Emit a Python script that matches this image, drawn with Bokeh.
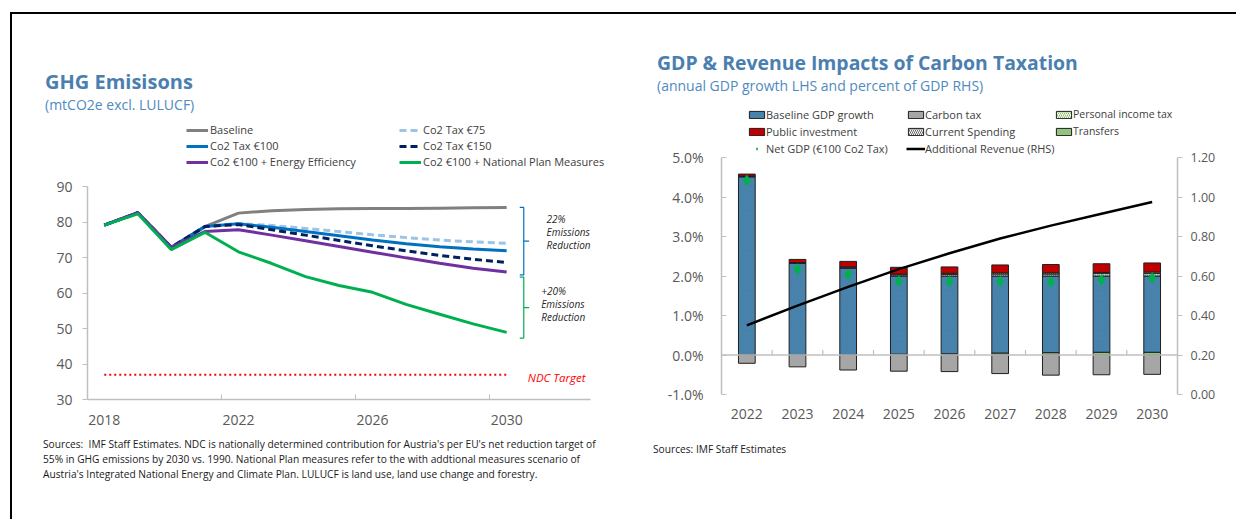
import numpy as np
from bokeh.plotting import figure
from bokeh.layouts import row, column
from bokeh.models import (Range1d, FactorRange, LinearAxis, FixedTicker, PrintfTickFormatter,
                          Label, Legend, LegendItem, Span, Div)
from bokeh.embed import file_html
from bokeh.resources import INLINE

FONT = "Open Sans"
TITLE_C = "#4a7fb0"
SUB_C = "#4f8ac0"
TICK_C = "#595959"
AXIS_C = "#bfbfbf"

# ---------------- Left chart data (mtCO2e) ----------------
years = [2018, 2019, 2020, 2021, 2022, 2023, 2024, 2025, 2026, 2027, 2028, 2029, 2030]
baseline = [79.1, 82.6, 72.9, 78.7, 82.5, 83.2, 83.5, 83.7, 83.8, 83.8, 83.9, 84.0, 84.1]
tax75 = [79.1, 82.6, 72.9, 78.7, 79.6, 79.0, 78.2, 77.3, 76.4, 75.6, 74.9, 74.4, 74.0]
tax100 = [79.1, 82.6, 72.9, 78.7, 79.5, 78.5, 77.3, 76.1, 74.9, 73.9, 73.0, 72.4, 71.9]
tax150 = [79.1, 82.6, 72.9, 78.7, 79.3, 77.8, 76.3, 74.8, 73.3, 71.9, 70.6, 69.5, 68.6]
energy_eff = [79.1, 82.6, 72.9, 77.3, 77.8, 76.3, 74.7, 73.1, 71.5, 69.9, 68.4, 67.0, 65.9]
nat_plan = [79.1, 82.3, 72.2, 77.1, 71.6, 68.3, 64.6, 62.1, 60.2, 56.8, 54.0, 51.3, 48.9]
ndc_target = [37.0] * len(years)
x_tick_labels = [2018, 2022, 2026, 2030]
y_ticks_left = [30, 40, 50, 60, 70, 80, 90]

left_title = "GHG Emisisons"
left_subtitle = "(mtCO2e excl. LULUCF)"
left_sources = ["Sources:&nbsp; IMF Staff Estimates. NDC is nationally determined contribution for Austria's per EU's net reduction target of",
                "55% in GHG emissions by 2030 vs. 1990. National Plan measures refer to the with addtional measures scenario of",
                "Austria's Integrated National Energy and Climate Plan. LULUCF is land use, land use change and forestry."]

# ---------------- Right chart data (% of GDP) ----------------
years_r = ["2022", "2023", "2024", "2025", "2026", "2027", "2028", "2029", "2030"]
transfers = [0.00, 0.00, 0.01, 0.02, 0.03, 0.05, 0.06, 0.07, 0.07]
baseline_gdp = [4.51, 2.32, 2.19, 1.98, 1.97, 1.95, 1.94, 1.93, 1.93]
personal_tax = [0.01, 0.01, 0.01, 0.03, 0.04, 0.05, 0.05, 0.06, 0.06]
current_spending = [0.01, 0.01, 0.02, 0.02, 0.03, 0.03, 0.03, 0.03, 0.04]
public_inv = [0.05, 0.08, 0.14, 0.17, 0.16, 0.20, 0.21, 0.22, 0.23]
carbon_tax = [-0.21, -0.30, -0.38, -0.41, -0.42, -0.47, -0.51, -0.50, -0.49]
net_gdp = [4.42, 2.17, 2.04, 1.87, 1.86, 1.86, 1.85, 1.90, 1.95]
add_revenue = [0.35, 0.45, 0.545, 0.635, 0.715, 0.79, 0.855, 0.915, 0.975]
y_ticks_lhs = [-1, 0, 1, 2, 3, 4, 5]
y_ticks_rhs = [0.0, 0.2, 0.4, 0.6, 0.8, 1.0, 1.2]

right_title = "GDP &amp; Revenue Impacts of Carbon Taxation"
right_subtitle = "(annual GDP growth LHS and percent of GDP RHS)"
right_sources = ["Sources: IMF Staff Estimates"]

# ---------------- geometry ----------------
W1, W2 = 616, 600
BB = 38                    # bottom border (x-axis panel)
H1, H2 = 283 + BB, 296 + BB
L_FRAME_H = H1 - BB
R_FRAME_H = H2 - BB
L_YTOP = 30 + L_FRAME_H * 60 / 213
L_XEND = 2017.5 + 525 / (503 / 15)
R_YTOP = -1 + R_FRAME_H * 6 / 237
R_RTOP = R_FRAME_H * 1.2 / 237


def lab(p, x, y, text, size, color="#262626", style="normal", units="screen", align="left"):
    p.add_layout(Label(x=x, y=y, x_units=units, y_units=units, text=text, text_font=FONT,
                       text_font_size=size, text_color=color, text_font_style=style,
                       text_baseline="middle", text_align=align))


def style_fig(p):
    p.outline_line_color = None
    p.xgrid.grid_line_color = None
    p.ygrid.grid_line_color = None
    p.background_fill_color = "white"
    p.border_fill_color = "white"


def style_axis(ax, size="14px"):
    ax.axis_line_color = AXIS_C
    ax.axis_line_width = 1.5
    ax.major_tick_line_color = AXIS_C
    ax.minor_tick_line_color = None
    ax.major_label_text_font = FONT
    ax.major_label_text_font_size = size
    ax.major_label_text_color = TICK_C


def make_legend(items, x, y, gw, gh, lh, spacing, size, standoff):
    return Legend(items=items, location=(x, y), orientation="vertical",
                  glyph_width=gw, glyph_height=gh, label_height=lh, spacing=spacing,
                  label_standoff=standoff, padding=0, margin=0, border_line_color=None,
                  background_fill_alpha=0, label_text_font=FONT,
                  label_text_font_size=size, label_text_color="#404040")


def title_div(width, height, pad_left, pad_top, title, subtitle, tsize):
    html = (f'<div style="padding:{pad_top}px 0 0 {pad_left}px;font-family:\'{FONT}\';white-space:nowrap">'
            f'<div style="font-size:{tsize};font-weight:bold;color:{TITLE_C};line-height:24px">{title}</div>'
            f'<div style="font-size:14px;color:{SUB_C};line-height:22px">{subtitle}</div></div>')
    return Div(text=html, width=width, height=height, margin=(0, 0, 0, 0))


def source_div(width, height, pad_left, pad_top, lines):
    html = (f'<div style="padding-top:{pad_top}px;padding-left:{pad_left}px;font-family:\'{FONT}\';font-size:10.2px;'
            f'line-height:15px;color:#1a1a1a;white-space:nowrap">' + "<br>".join(lines) + '</div>')
    return Div(text=html, width=width, height=height, margin=(0, 0, 0, 0))


# ================= LEFT FIGURE =================
p1 = figure(width=W1, height=H1, output_backend="svg", toolbar_location=None, title=None,
            x_range=Range1d(2017.5, L_XEND), y_range=Range1d(30, L_YTOP),
            min_border_left=75, min_border_right=16, min_border_top=0, min_border_bottom=BB)
style_fig(p1)

xa = p1.xaxis[0]
style_axis(xa)
xa.ticker = FixedTicker(ticks=x_tick_labels, minor_ticks=[2017.5, 2021.5, 2025.5, 2029.5])
xa.bounds = (2017.5, 2032.5)
xa.major_tick_line_color = None
xa.major_tick_in = 0
xa.major_tick_out = 0
xa.minor_tick_line_color = AXIS_C
xa.minor_tick_in = 5
xa.minor_tick_out = 0
xa.major_label_standoff = 15

ya = p1.yaxis[0]
style_axis(ya)
ya.ticker = FixedTicker(ticks=y_ticks_left)
ya.bounds = (30, 90)
ya.major_tick_in = 0
ya.major_tick_out = 5
ya.major_label_standoff = 10

ndc_r = p1.line(years, ndc_target, line_color="#ff0000", line_width=2, line_dash="2 3")
r_base = p1.line(years, baseline, line_color="#808080", line_width=3)
r_75 = p1.line(years, tax75, line_color="#9dc3e6", line_width=3, line_dash="7 4")
r_100 = p1.line(years, tax100, line_color="#0070c0", line_width=3)
r_150 = p1.line(years, tax150, line_color="#002060", line_width=3, line_dash="7 4")
r_ee = p1.line(years, energy_eff, line_color="#7030a0", line_width=3)
r_np = p1.line(years, nat_plan, line_color="#00b050", line_width=3)

# brackets (annotation)
bx0, bx1, bx2 = 2030.39, 2030.51, 2030.67
b_top, b_bot = baseline[-1], energy_eff[-1] - 0.8
p1.line([bx0, bx1, bx1, bx0], [b_top, b_top, b_bot, b_bot], line_color="#0070c0", line_width=1.2)
p1.line([bx1, bx2], [(b_top + b_bot) / 2] * 2, line_color="#0070c0", line_width=1.2)
g_top, g_bot = energy_eff[-1] - 1.4, nat_plan[-1] - 1.6
p1.line([bx0, bx1, bx1, bx0], [g_top, g_top, g_bot, g_bot], line_color="#00b050", line_width=1.2)
p1.line([bx1, bx2], [(g_top + g_bot) / 2] * 2, line_color="#00b050", line_width=1.2)

for txt, yy in [("22%", 80.9), ("Emissions", 77.1), ("Reduction", 73.5)]:
    lab(p1, 2031.19, yy, txt, "10px", "#262626", "italic", units="data")
for txt, yy in [("+20%", 60.7), ("Emissions", 57.0), ("Reduction", 53.2)]:
    lab(p1, 2031.03, yy, txt, "10px", "#262626", "italic", units="data")
lab(p1, 2030.63, 36.3, "NDC Target", "11.5px", "#ff0000", "italic", units="data")

leg1a = make_legend([LegendItem(label="Baseline", renderers=[r_base]),
                     LegendItem(label="Co2 Tax €100", renderers=[r_100]),
                     LegendItem(label="Co2 €100 + Energy Efficiency", renderers=[r_ee])],
                    99, 230, 22, 14, 14, 1, "11px", 2)
leg1b = make_legend([LegendItem(label="Co2 Tax €75", renderers=[r_75]),
                     LegendItem(label="Co2 Tax €150", renderers=[r_150]),
                     LegendItem(label="Co2 €100 + National Plan Measures", renderers=[r_np])],
                    312, 230, 22, 14, 14, 1, "11px", 2)
p1.add_layout(leg1a)
p1.add_layout(leg1b)

# ================= RIGHT FIGURE =================
p2 = figure(width=W2, height=H2, output_backend="svg", toolbar_location=None, title=None,
            x_range=FactorRange(*years_r), y_range=Range1d(-1, R_YTOP),
            min_border_left=93, min_border_right=51, min_border_top=0, min_border_bottom=BB)
style_fig(p2)
p2.extra_y_ranges = {"rhs": Range1d(0, R_RTOP)}

xa2 = p2.xaxis[0]
style_axis(xa2)
xa2.axis_line_color = None
xa2.major_tick_line_color = None
xa2.major_tick_in = 0
xa2.major_tick_out = 0
xa2.major_label_standoff = 14

ya2 = p2.yaxis[0]
style_axis(ya2)
ya2.ticker = FixedTicker(ticks=y_ticks_lhs)
ya2.formatter = PrintfTickFormatter(format="%.1f%%")
ya2.bounds = (-1, 5)
ya2.major_tick_in = 5
ya2.major_tick_out = 0
ya2.major_label_standoff = 18

ra = LinearAxis(y_range_name="rhs", ticker=FixedTicker(ticks=y_ticks_rhs),
                formatter=PrintfTickFormatter(format="%.2f"), bounds=(0, 1.2))
style_axis(ra, "12.5px")
ra.major_tick_in = 0
ra.major_tick_out = 5
ra.major_label_standoff = 8
p2.add_layout(ra, "right")

# zero line (category axis crossing at 0) with tick marks between categories
p2.add_layout(Span(location=0, dimension="width", line_color=AXIS_C, line_width=1.5))
bounds = list(range(1, len(years_r)))
p2.segment(x0=bounds, x1=bounds, y0=[0] * len(bounds), y1=[0.125] * len(bounds),
           line_color=AXIS_C, line_width=1.2)

stack_vals = [transfers, baseline_gdp, personal_tax, current_spending, public_inv]
tops = np.cumsum(np.array(stack_vals), axis=0)
bottoms = np.vstack([np.zeros(len(years_r)), tops[:-1]])
BW = 0.33
common = dict(line_color="#1f1f1f", line_width=1)
r_tr = p2.vbar(x=years_r, width=BW, bottom=bottoms[0], top=tops[0], fill_color="#93c47d", **common)
r_bg = p2.vbar(x=years_r, width=BW, bottom=bottoms[1], top=tops[1], fill_color="#4a86b0",
               hatch_pattern="/", hatch_color="#3a6f95", hatch_scale=5, hatch_weight=0.7,
               hatch_alpha=0.6, **common)
r_pt = p2.vbar(x=years_r, width=BW, bottom=bottoms[2], top=tops[2], fill_color="white",
               hatch_pattern="/", hatch_color="#70ad47", hatch_scale=4, hatch_weight=0.8, **common)
r_cs = p2.vbar(x=years_r, width=BW, bottom=bottoms[3], top=tops[3], fill_color="white",
               hatch_pattern="\\", hatch_color="#404040", hatch_scale=4, hatch_weight=0.8, **common)
r_pi = p2.vbar(x=years_r, width=BW, bottom=bottoms[4], top=tops[4], fill_color="#c00000", **common)
r_ct = p2.vbar(x=years_r, width=BW, bottom=0, top=carbon_tax, fill_color="#a6a6a6", **common)

r_rev = p2.line(years_r, add_revenue, y_range_name="rhs", line_color="black", line_width=2.5)
r_net = p2.scatter(years_r, net_gdp, marker="diamond", size=12, fill_color="#00b050", line_color=None)

leg2a = make_legend([LegendItem(label="Baseline GDP growth", renderers=[r_bg]),
                     LegendItem(label="Public investment", renderers=[r_pi]),
                     LegendItem(label="Net GDP (€100 Co2 Tax)", renderers=[r_net])],
                    26, 238, 19, 9, 16, 1, "11px", 0)
leg2b = make_legend([LegendItem(label="Carbon tax", renderers=[r_ct]),
                     LegendItem(label="Current Spending", renderers=[r_cs]),
                     LegendItem(label="Additional Revenue (RHS)", renderers=[r_rev])],
                    185, 238, 19, 9, 16, 1, "11px", 0)
leg2c = make_legend([LegendItem(label="Personal income tax", renderers=[r_pt]),
                     LegendItem(label="Transfers", renderers=[r_tr])],
                    333, 255, 19, 9, 16, 1, "10.5px", 0)
for lg in (leg2a, leg2b, leg2c):
    p2.add_layout(lg)

# ================= PAGE LAYOUT =================
left_col = column(title_div(W1, 102, 33, 56, left_title, left_subtitle, "20px"), p1,
                  source_div(W1, 76, 31, 0, left_sources), spacing=0)
right_col = column(title_div(W2, 84, 29, 37, right_title, right_subtitle, "19.4px"), p2,
                   source_div(W2, 81, 25, 10, right_sources), spacing=0)

top_line = Div(text="", width=1226, height=2, margin=(12, 0, 0, 10),
               styles={"background-color": "black"})
left_line = Div(text="", width=2, height=505, margin=(0, 0, 0, 10),
                styles={"background-color": "black"})

layout = column(top_line, row(left_line, left_col, right_col, spacing=0), spacing=0)
open("out.html", "w").write(file_html(layout, INLINE))
